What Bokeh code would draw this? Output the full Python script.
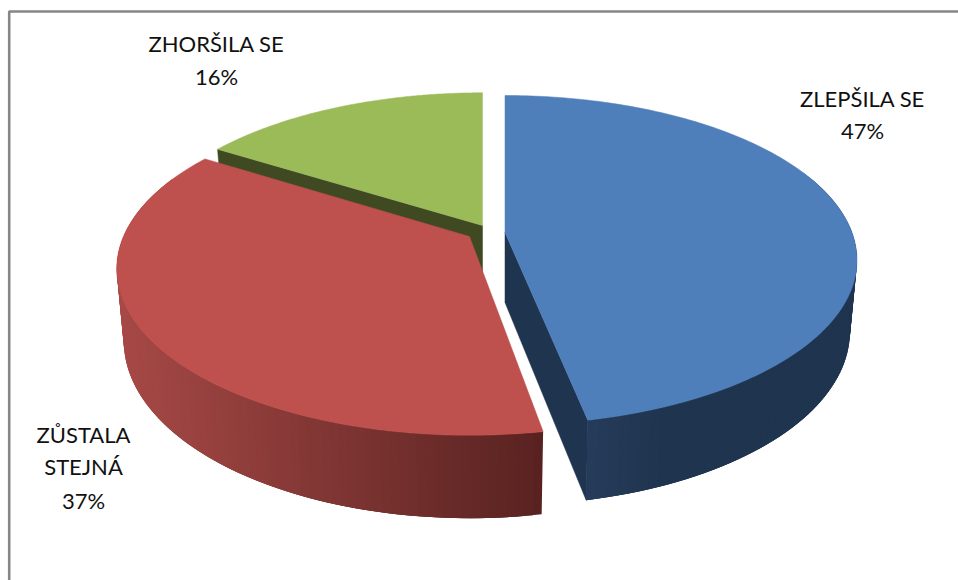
import numpy as np
from bokeh.plotting import figure
from bokeh.embed import file_html
from bokeh.resources import INLINE
from bokeh.core.properties import value

# --- data
categories = ["ZLEPŠILA SE", "ZŮSTALA STEJNÁ", "ZHORŠILA SE"]
shares = [47, 37, 16]
label_lines = [["ZLEPŠILA SE", "47%"], ["ZŮSTALA", "STEJNÁ", "37%"], ["ZHORŠILA SE", "16%"]]

# --- styling / geometry (pixel space of the picture)
W, H = 958, 580
top_colors = ["#4F7FBB", "#BE504D", "#9BBB59"]
face_colors = ["#1F344F", "#5A2321", "#3F4A22"]
wall_left = [(0x27, 0x3E, 0x5E), (0xA6, 0x49, 0x46), (0x3F, 0x4A, 0x22)]
wall_right = [(0x1F, 0x34, 0x4F), (0x58, 0x22, 0x20), (0x3F, 0x4A, 0x22)]
wall_span = [(587, 680), (118, 543), (218, 482)]
apex = [(504.5, 232), (469, 236), (482, 225)]
semi_a = [347, 346, 342]
semi_b = [160, 160, 155]
persp = [0.168, 0.195, 0.168]
DEPTH, SHRINK = 70, 0.98
# small angle corrections (degrees) for the tilted view: start and end of each slice
view_nudge = [(0, -0.7), (0.9, 0), (0, 0)]
label_pos = [(862, [98, 130]), (83, [434, 466, 500]), (216, [43, 76])]

p = figure(width=W, height=H, x_range=(0, W), y_range=(H, 0),
           output_backend="svg", toolbar_location=None, min_border=0,
           background_fill_color="white", border_fill_color="white")
p.axis.visible = False
p.grid.visible = False
p.outline_line_color = None

total = sum(shares)
edges = np.cumsum([0] + shares) / total * 2 * np.pi


def top(i, th):
    th = np.asarray(th, dtype=float)
    u, v = np.sin(th), np.cos(th)
    w = 1 + persp[i] * v
    return apex[i][0] + semi_a[i] * u / w, apex[i][1] - semi_b[i] * v / w


def bottom(i, th):
    th = np.asarray(th, dtype=float)
    u, v = np.sin(th), np.cos(th)
    w = 1 + persp[i] * v
    return (apex[i][0] + SHRINK * semi_a[i] * u / w,
            apex[i][1] + (DEPTH - SHRINK * semi_b[i] * v) / w)


def mix(i, x):
    a, b = wall_span[i]
    t = min(max((x - a) / (b - a), 0), 1)
    c = [int(round(l + (r - l) * t)) for l, r in zip(wall_left[i], wall_right[i])]
    return "#%02X%02X%02X" % tuple(c)


def draw_slice(i):
    a0 = edges[i] + np.radians(view_nudge[i][0])
    a1 = edges[i + 1] + np.radians(view_nudge[i][1])
    th = np.linspace(a0, a1, 160)
    ax, ay = apex[i]
    bx0, by0 = ax, ay + DEPTH
    # cut face that looks at the viewer
    if i in (0, 2):
        a = a1 if i == 0 else a0
        tx, ty = top(i, a)
        bx, by = bottom(i, a)
        p.patch([ax, bx0, bx, tx], [ay, by0, by, ty], fill_color=face_colors[i],
                line_color=face_colors[i], line_width=0.5)
    # outer wall, as overlapping shaded quads that hide each other's seams
    if i != 2:
        wall = np.linspace(a0, a1, 110)
        wall = wall[np.cos(wall) < 0.4]
        tx, ty = top(i, wall)
        bx, by = bottom(i, wall)
        n = len(wall)
        order = range(n - 1) if i == 1 else range(n - 2, -1, -1)
        xs, ys, cs = [], [], []
        for k in order:
            e = min(k + 3, n - 1)
            xs.append([tx[k], tx[e], bx[e], bx[k]])
            ys.append([ty[k], ty[e], by[e], by[k]])
            cs.append(mix(i, (tx[k] + tx[k + 1]) / 2))
        p.patches(xs, ys, fill_color=cs, line_color=None)
    # top surface
    tx, ty = top(i, th)
    p.patch(np.r_[ax, tx], np.r_[ay, ty], fill_color=top_colors[i],
            line_color=top_colors[i], line_width=0.5)


for i in (2, 0, 1):
    draw_slice(i)

# chart-area border: only the left and top sides show
p.line([8.7, 8.7, W], [H, 11, 11], line_color="#868686", line_width=2.6)

for i, (cx, ys) in enumerate(label_pos):
    p.text([cx] * len(ys), ys, text=label_lines[i], text_font=value("Lato"),
           text_font_size="22px", text_color="#111111", text_align="center",
           text_baseline="middle")

open("out.html", "w").write(file_html(p, INLINE))
